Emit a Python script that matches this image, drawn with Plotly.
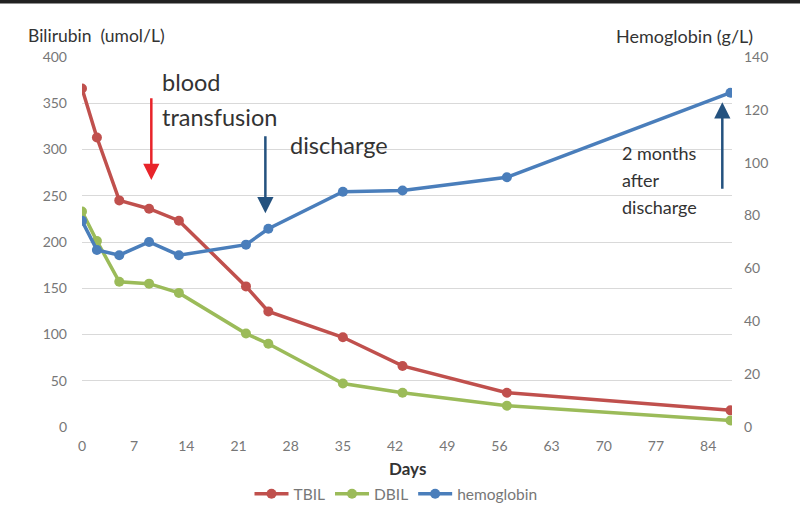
import plotly.graph_objects as go

days = [0, 2, 5, 9, 13, 22, 25, 35, 43, 57, 87]
tbil = [366, 313, 245, 236, 223, 152, 125, 97, 66, 37, 18]
dbil = [233, 201, 157, 155, 145, 101, 90, 47, 37, 23, 7]
hgb = [78, 67, 65, 70, 65, 69, 75, 89, 89.5, 94.5, 126.5]
x_ticks = [0, 7, 14, 21, 28, 35, 42, 49, 56, 63, 70, 77, 84]
left_ticks = [0, 50, 100, 150, 200, 250, 300, 350, 400]
right_ticks = [0, 20, 40, 60, 80, 100, 120, 140]

RED = "#C0504D"
GREEN = "#9BBB59"
BLUE = "#4A7EBB"
FONT = "Lato, Open Sans, sans-serif"
GRAY = "#777777"
DARK = "#333333"

fig = go.Figure()
fig.add_trace(go.Scatter(x=days, y=tbil, name="TBIL", mode="lines+markers",
                         line=dict(color=RED, width=3.5), marker=dict(size=10, color=RED)))
fig.add_trace(go.Scatter(x=days, y=dbil, name="DBIL", mode="lines+markers",
                         line=dict(color=GREEN, width=3.5), marker=dict(size=10, color=GREEN)))
fig.add_trace(go.Scatter(x=days, y=hgb, name="hemoglobin", mode="lines+markers", yaxis="y2",
                         line=dict(color=BLUE, width=3.5), marker=dict(size=10, color=BLUE)))

fig.update_layout(
    width=800, height=510,
    margin=dict(l=82, r=68, t=57, b=83, autoexpand=False),
    paper_bgcolor="white", plot_bgcolor="white",
    font=dict(family=FONT, color=GRAY),
    showlegend=True,
    legend=dict(orientation="h", x=0.495, xanchor="center", xref="container",
                y=0.031, yanchor="middle", yref="container",
                font=dict(size=15.5, color=GRAY), itemwidth=34, tracegroupgap=0),
    xaxis=dict(range=[0, 87.2], tickvals=x_ticks, showgrid=False, zeroline=False,
               tickfont=dict(size=14, color=GRAY), ticks="", showline=False, automargin=False,
               ticklabelstandoff=9),
    yaxis=dict(range=[0, 400], tickvals=left_ticks, showgrid=True, gridcolor="#D9D9D9",
               gridwidth=1, zeroline=False, tickfont=dict(size=14, color=GRAY), ticks="",
               ticklabelstandoff=14, automargin=False),
    yaxis2=dict(range=[0, 140], tickvals=right_ticks, overlaying="y", side="right",
                showgrid=False, zeroline=False, tickfont=dict(size=14, color=GRAY), ticks="",
                ticklabelstandoff=11, automargin=False),
)

def txt(text, x, y, size, yref="y"):
    return dict(text=text, x=x, y=y, xref="x", yref=yref, xanchor="left", yanchor="middle",
                align="left", showarrow=False, font=dict(size=size, color=DARK))

annotations = [
    dict(text="Bilirubin&nbsp;&nbsp;(umol/L)", xref="paper", yref="paper", x=-0.086, y=1.058,
         xanchor="left", yanchor="middle", showarrow=False, font=dict(size=17.5, color=DARK)),
    dict(text="Hemoglobin (g/L)", xref="paper", yref="paper", x=1.036, y=1.058,
         xanchor="right", yanchor="middle", showarrow=False, font=dict(size=18, color=DARK)),
    dict(text="<b>Days</b>", xref="paper", yref="paper", x=0.5015, y=-0.1135,
         xanchor="center", yanchor="middle", showarrow=False, font=dict(size=17, color=DARK)),
    txt("blood", 10.5, 373, 23.5),
    txt("transfusion", 10.5, 335, 23.5),
    txt("discharge", 27.6, 305, 23.5),
    txt("2 months", 72.2, 103.8, 18, "y2"),
    txt("after", 72.2, 93.6, 18, "y2"),
    txt("discharge", 72.2, 83.4, 18, "y2"),
    dict(x=9.3, y=267, ax=9.3, ay=357, xref="x", yref="y", axref="x", ayref="y", text="",
         showarrow=True, arrowhead=2, arrowsize=1.3, arrowwidth=2.5, arrowcolor="#E8242A"),
    dict(x=24.6, y=231, ax=24.6, ay=316, xref="x", yref="y", axref="x", ayref="y", text="",
         showarrow=True, arrowhead=2, arrowsize=1.3, arrowwidth=2.5, arrowcolor="#24527F"),
    dict(x=85.9, y=351, ax=85.9, ay=256, xref="x", yref="y", axref="x", ayref="y", text="",
         showarrow=True, arrowhead=2, arrowsize=1.3, arrowwidth=2.5, arrowcolor="#24527F"),
]
fig.update_layout(annotations=annotations)
fig.add_shape(type="line", xref="paper", yref="paper", x0=-0.2, x1=1.2, y0=1.15, y1=1.15,
              line=dict(color="#222222", width=4))

fig.write_html("out.html", config={"displayModeBar": False},
               post_script="document.body.style.margin='0';")
